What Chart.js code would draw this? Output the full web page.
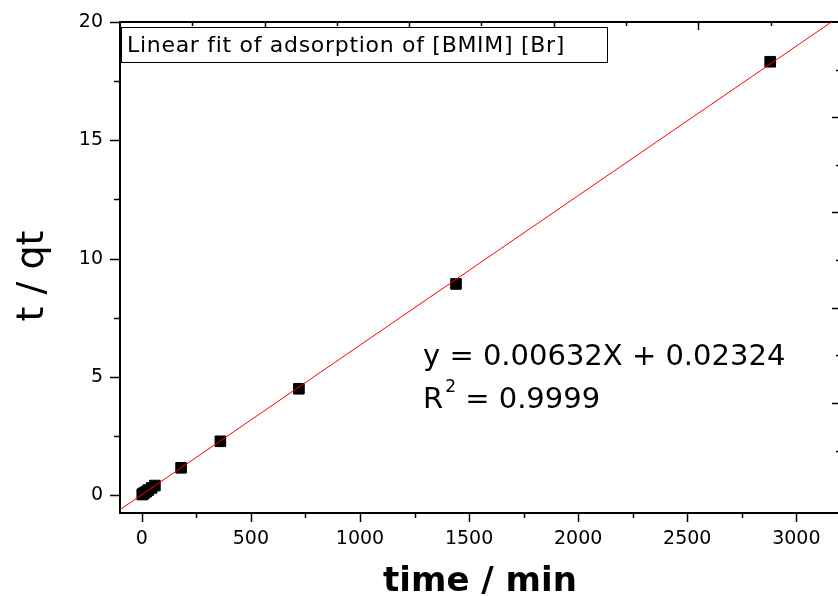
<!DOCTYPE html>
<html>
<head>
<meta charset="utf-8">
<script src="https://cdn.jsdelivr.net/npm/chart.js@4.4.0/dist/chart.umd.min.js"></script>
<style>
  html, body { margin: 0; padding: 0; background: #fff; overflow: hidden; }
  #wrap { width: 838px; height: 596px; overflow: hidden; }
</style>
</head>
<body>
<div id="wrap"><canvas id="chart" width="850" height="596"></canvas></div>
<script>
// --- data ---
const timeMin = [2, 5, 10, 20, 30, 45, 60, 180, 360, 720, 1440, 2880];
const tOverQt = [0.03, 0.05, 0.09, 0.15, 0.22, 0.31, 0.41, 1.16, 2.28, 4.50, 8.93, 18.32];
// ends of the fitted line (y = 0.00632X + 0.02324)
const fitX = [-100, 3200];
const fitY = [-0.609, 20.247];
// tick positions and the labelled ones
const xTickValues = [0, 250, 500, 750, 1000, 1250, 1500, 1750, 2000, 2250, 2500, 2750, 3000];
const xTickLabels = [0, 500, 1000, 1500, 2000, 2500, 3000];
const yTickValues = [0, 2.5, 5, 7.5, 10, 12.5, 15, 17.5, 20];
const yTickLabels = [0, 5, 10, 15, 20];
// frame ticks of the top and right axes (no labels)
const frameTickValues = [1, 2, 3, 4, 5, 6, 7, 8, 9];

const legendText = 'Linear fit of adsorption of [BMIM] [Br]';
const eqText = 'y = 0.00632X + 0.02324';
const r2Text = ' = 0.9999';
const yTitle = 't / qt';

const FONT = '"DejaVu Sans", sans-serif';
Chart.defaults.color = '#000';
Chart.defaults.font.family = FONT;

function line(ctx, x1, y1, x2, y2) {
  ctx.beginPath();
  ctx.moveTo(x1, y1);
  ctx.lineTo(x2, y2);
  ctx.stroke();
}

function setTicks(values) {
  return s => { s.ticks = values.map(v => ({value: v})); };
}

// ticks (major / minor), inner ticks on top and right, legend box, y title and fit equation
const framePlugin = {
  id: 'frame',
  afterDraw(chart) {
    const ctx = chart.ctx;
    const {x, y, x2, y2} = chart.scales;
    const area = chart.chartArea;
    ctx.save();
    ctx.strokeStyle = '#000';
    ctx.lineWidth = 1.5;
    x.ticks.forEach(t => {
      const px = Math.round(x.getPixelForValue(t.value)) + 0.5;
      const len = xTickLabels.includes(t.value) ? 9 : 5;
      line(ctx, px, area.bottom, px, area.bottom + len);
    });
    y.ticks.forEach(t => {
      const py = Math.round(y.getPixelForValue(t.value)) + 0.5;
      const len = yTickLabels.includes(t.value) ? 10 : 6;
      line(ctx, area.left, py, area.left - len, py);
    });
    x2.ticks.forEach(t => {
      const px = Math.round(x2.getPixelForValue(t.value)) + 0.5;
      const len = t.value % 2 === 0 ? 8 : 4;
      line(ctx, px, area.top, px, area.top + len);
    });
    y2.ticks.forEach(t => {
      const py = Math.round(y2.getPixelForValue(t.value)) + 0.5;
      const len = t.value % 2 === 0 ? 8 : 4;
      line(ctx, area.right, py, area.right - len, py);
    });

    // y axis title, sits a little below the middle of the axis
    ctx.fillStyle = '#000';
    ctx.save();
    ctx.translate(33, 276);
    ctx.rotate(-Math.PI / 2);
    ctx.textAlign = 'center';
    ctx.textBaseline = 'middle';
    ctx.font = '38px ' + FONT;
    ctx.fillText(yTitle, 0, 0);
    ctx.restore();

    // legend box
    ctx.lineWidth = 1;
    ctx.fillStyle = '#fff';
    ctx.fillRect(area.left + 1, 27, 486, 35);
    ctx.strokeRect(area.left + 1.5, 27.5, 486, 35);
    ctx.fillStyle = '#000';
    ctx.textBaseline = 'alphabetic';
    ctx.textAlign = 'left';
    ctx.font = '22px ' + FONT;
    ctx.letterSpacing = '0.7px';
    ctx.fillText(legendText, 127, 52);
    ctx.letterSpacing = '0px';

    // equation
    ctx.font = '29px ' + FONT;
    ctx.fillText(eqText, 423, 365);
    ctx.fillText('R', 423, 408);
    const rw = ctx.measureText('R').width;
    ctx.font = '17px ' + FONT;
    ctx.fillText('2', 423 + rw + 2, 392);
    const sw = ctx.measureText('2').width;
    ctx.font = '29px ' + FONT;
    ctx.fillText(r2Text, 423 + rw + sw + 2, 408);
    ctx.restore();
  }
};

const ctxChart = document.getElementById('chart');
new Chart(ctxChart, {
  type: 'scatter',
  data: {
    datasets: [
      {
        label: 'fit',
        type: 'line',
        data: fitX.map((v, i) => ({x: v, y: fitY[i]})),
        borderColor: '#ff0000',
        borderWidth: 1,
        pointRadius: 0,
        fill: false,
        order: 0
      },
      {
        label: 't / qt',
        data: timeMin.map((v, i) => ({x: v, y: tOverQt[i]})),
        pointStyle: 'rect',
        pointRadius: 7.5,
        backgroundColor: '#000',
        borderColor: '#000',
        borderWidth: 1,
        order: 1
      }
    ]
  },
  options: {
    responsive: false,
    animation: false,
    events: [],
    layout: { padding: 0 },
    plugins: { legend: { display: false }, tooltip: { enabled: false } },
    scales: {
      x: {
        type: 'linear', position: 'bottom',
        min: -100, max: 3200,
        afterBuildTicks: setTicks(xTickValues),
        afterFit: s => { s.height = 83; },
        border: { display: true, color: '#000', width: 2 },
        grid: { display: true, drawOnChartArea: false, drawTicks: true, tickLength: 9, tickColor: 'transparent' },
        ticks: {
          autoSkip: false, maxRotation: 0, padding: 6,
          font: { size: 19 },
          callback: v => xTickLabels.includes(v) ? String(v) : ''
        },
        title: {
          display: true, text: 'time / min',
          font: { size: 34, weight: 'bold', lineHeight: 0.8 },
          padding: 0
        }
      },
      y: {
        type: 'linear', position: 'left',
        min: -0.75, max: 20,
        afterBuildTicks: setTicks(yTickValues),
        afterFit: s => { s.width = 120; },
        border: { display: true, color: '#000', width: 2 },
        grid: { display: true, drawOnChartArea: false, drawTicks: true, tickLength: 10, tickColor: 'transparent' },
        ticks: {
          autoSkip: false, padding: 7,
          font: { size: 19 },
          callback: v => yTickLabels.includes(v) ? String(v) : ''
        },
        title: { display: false }
      },
      x2: {
        type: 'linear', position: 'top',
        min: 0, max: 9.96,
        afterBuildTicks: setTicks(frameTickValues),
        afterFit: s => { s.height = 22; },
        border: { display: true, color: '#000', width: 2 },
        grid: { display: false },
        ticks: { display: false }
      },
      y2: {
        type: 'linear', position: 'right',
        min: 0, max: 10.31, reverse: true,
        afterBuildTicks: setTicks(frameTickValues),
        afterFit: s => { s.width = 10; },
        border: { display: true, color: '#000', width: 2 },
        grid: { display: false },
        ticks: { display: false }
      }
    }
  },
  plugins: [framePlugin]
});
</script>
</body>
</html>
